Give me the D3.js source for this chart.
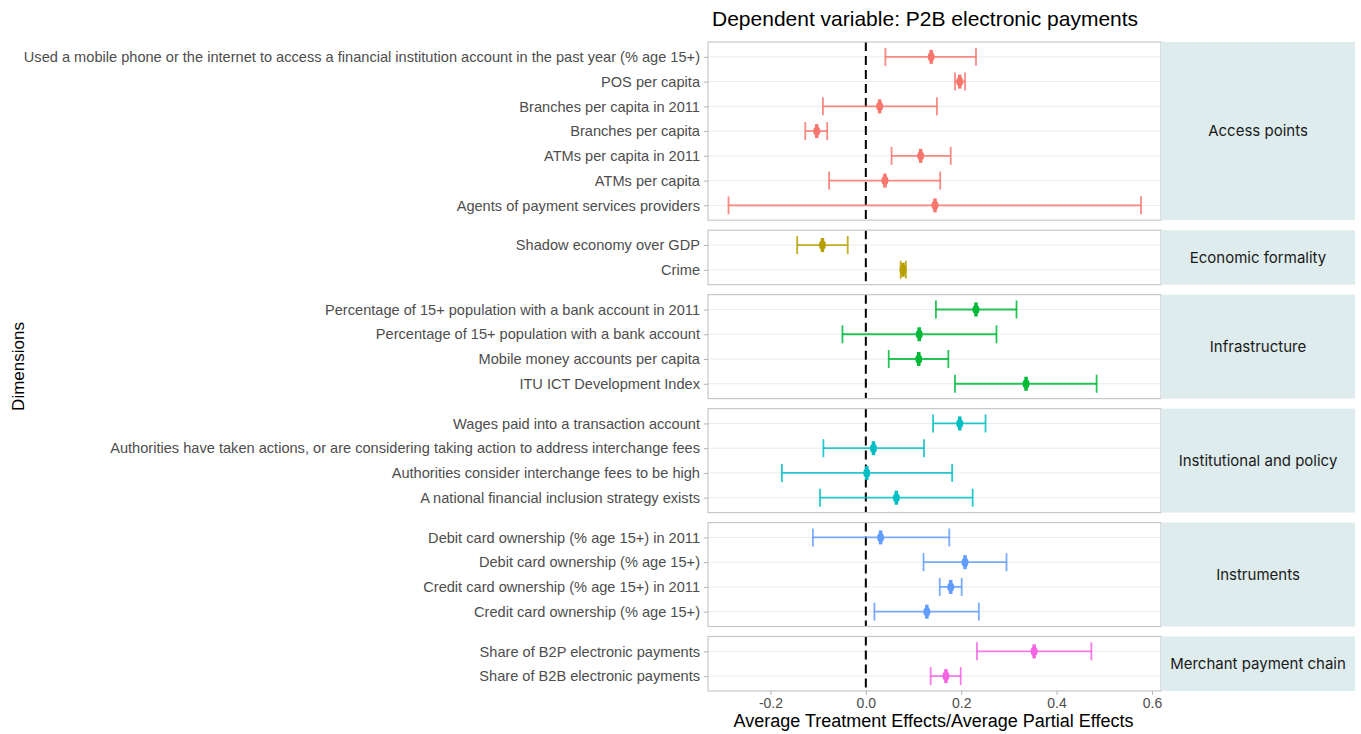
<!DOCTYPE html>
<html>
<head>
<meta charset="utf-8">
<script src="https://cdn.jsdelivr.net/npm/d3@7"></script>
<style>
  body { margin: 0; background: #fff; }
  svg { display: block; font-family: "Liberation Sans", Arial, sans-serif; }
</style>
</head>
<body>
<svg id="chart" width="1361" height="734"></svg>
<script>
// facet groups, top to bottom
var groups = ["Access points", "Economic formality", "Infrastructure",
  "Institutional and policy", "Instruments", "Merchant payment chain"];
var groupColors = ["#F8766D", "#B79F00", "#00BA38", "#00BFC4", "#619CFF", "#F564E3"];

// variables per group, top to bottom
var labels = [
  ["Used a mobile phone or the internet to access a financial institution account in the past year (% age 15+)",
   "POS per capita", "Branches per capita in 2011", "Branches per capita",
   "ATMs per capita in 2011", "ATMs per capita", "Agents of payment services providers"],
  ["Shadow economy over GDP", "Crime"],
  ["Percentage of 15+ population with a bank account in 2011",
   "Percentage of 15+ population with a bank account",
   "Mobile money accounts per capita", "ITU ICT Development Index"],
  ["Wages paid into a transaction account",
   "Authorities have taken actions, or are considering taking action to address interchange fees",
   "Authorities consider interchange fees to be high",
   "A national financial inclusion strategy exists"],
  ["Debit card ownership (% age 15+) in 2011", "Debit card ownership (% age 15+)",
   "Credit card ownership (% age 15+) in 2011", "Credit card ownership (% age 15+)"],
  ["Share of B2P electronic payments", "Share of B2B electronic payments"]
];

// estimates and interval bounds
var estimates = [
  [0.137, 0.197, 0.029, -0.103, 0.115, 0.040, 0.145],
  [-0.091, 0.078],
  [0.231, 0.112, 0.111, 0.336],
  [0.197, 0.016, 0.002, 0.064],
  [0.031, 0.208, 0.178, 0.128],
  [0.353, 0.168]
];
var lower = [
  [0.041, 0.187, -0.090, -0.127, 0.054, -0.077, -0.288],
  [-0.144, 0.073],
  [0.147, -0.049, 0.048, 0.187],
  [0.141, -0.089, -0.176, -0.096],
  [-0.111, 0.121, 0.155, 0.018],
  [0.233, 0.136]
];
var upper = [
  [0.231, 0.208, 0.149, -0.081, 0.178, 0.156, 0.577],
  [-0.038, 0.084],
  [0.316, 0.274, 0.173, 0.484],
  [0.251, 0.122, 0.181, 0.224],
  [0.175, 0.295, 0.201, 0.237],
  [0.473, 0.199]
];
var xTicks = [-0.2, 0.0, 0.2, 0.4, 0.6];

var svg = d3.select("#chart");
var panelLeft = 708, panelRight = 1161, stripRight = 1355;
var top0 = 42, gap = 10, step = 24.75;

var x = d3.scaleLinear().domain([-0.331, 0.619]).range([panelLeft, panelRight]);

svg.append("text")
  .attr("x", 712).attr("y", 26)
  .attr("font-size", 21).attr("fill", "#000")
  .text("Dependent variable: P2B electronic payments");

var y0 = top0;
groups.forEach(function(g, gi) {
  var n = labels[gi].length;
  var h = (n - 1 + 1.2) * step;
  var y = d3.scalePoint().domain(labels[gi]).range([y0, y0 + h]).padding(0.6);
  var col = groupColors[gi];
  var pg = svg.append("g");

  // panel background & gridlines
  pg.append("rect").attr("x", panelLeft).attr("y", y0)
    .attr("width", panelRight - panelLeft).attr("height", h)
    .attr("fill", "#fff");
  pg.selectAll(".grid").data(labels[gi]).enter().append("line")
    .attr("x1", panelLeft).attr("x2", panelRight)
    .attr("y1", function(d) { return y(d); }).attr("y2", function(d) { return y(d); })
    .attr("stroke", "#ebebeb").attr("stroke-width", 1);

  // zero line
  pg.append("line")
    .attr("x1", x(0)).attr("x2", x(0)).attr("y1", y0).attr("y2", y0 + h)
    .attr("stroke", "#000").attr("stroke-width", 2).attr("stroke-dasharray", "9,5");

  var rows = labels[gi].map(function(l, i) {
    return { label: l, est: estimates[gi][i], lo: lower[gi][i], hi: upper[gi][i] };
  });

  var eb = pg.selectAll(".eb").data(rows).enter().append("g")
    .attr("stroke", col).attr("stroke-opacity", 0.85).attr("stroke-width", 1.8);
  eb.append("line")
    .attr("x1", function(d) { return x(d.lo); }).attr("x2", function(d) { return x(d.hi); })
    .attr("y1", function(d) { return y(d.label); }).attr("y2", function(d) { return y(d.label); });
  eb.append("line")
    .attr("x1", function(d) { return x(d.lo); }).attr("x2", function(d) { return x(d.lo); })
    .attr("y1", function(d) { return y(d.label) - 9; }).attr("y2", function(d) { return y(d.label) + 9; });
  eb.append("line")
    .attr("x1", function(d) { return x(d.hi); }).attr("x2", function(d) { return x(d.hi); })
    .attr("y1", function(d) { return y(d.label) - 9; }).attr("y2", function(d) { return y(d.label) + 9; });

  // point estimate: thick vertical tick + dot
  pg.selectAll(".pt").data(rows).enter().append("line")
    .attr("x1", function(d) { return x(d.est); }).attr("x2", function(d) { return x(d.est); })
    .attr("y1", function(d) { return y(d.label) - 7; }).attr("y2", function(d) { return y(d.label) + 7; })
    .attr("stroke", col).attr("stroke-width", 3.5);
  pg.selectAll(".dot").data(rows).enter().append("ellipse")
    .attr("cx", function(d) { return x(d.est); }).attr("cy", function(d) { return y(d.label); })
    .attr("rx", 3.5).attr("ry", 4.5).attr("fill", col);

  // panel border
  pg.append("rect").attr("x", panelLeft).attr("y", y0)
    .attr("width", panelRight - panelLeft).attr("height", h)
    .attr("fill", "none").attr("stroke", "#c8c8c8").attr("stroke-width", 1.2);

  // y axis
  var ya = pg.append("g").attr("transform", "translate(" + panelLeft + ",0)")
    .call(d3.axisLeft(y).tickSize(4).tickPadding(4));
  ya.select(".domain").remove();
  ya.selectAll(".tick line").attr("stroke", "#b3b3b3");
  ya.selectAll(".tick text").attr("fill", "#4d4d4d").attr("font-size", 14.6)
    .attr("font-family", "'Liberation Sans', Arial, sans-serif");

  // strip
  pg.append("rect").attr("x", panelRight).attr("y", y0)
    .attr("width", stripRight - panelRight).attr("height", h)
    .attr("fill", "#deeced");
  pg.append("text").attr("x", (panelRight + stripRight) / 2).attr("y", y0 + h / 2)
    .attr("text-anchor", "middle").attr("dy", "0.35em")
    .attr("font-size", 15).attr("fill", "#1a1a1a")
    .attr("font-family", "Inter, 'Open Sans', sans-serif")
    .text(g);

  y0 += h + gap;
});

var bottom = y0 - gap;
var xa = svg.append("g").attr("transform", "translate(0," + bottom + ")")
  .call(d3.axisBottom(x).tickValues(xTicks)
    .tickFormat(function(d) { return d.toFixed(1); }).tickSize(4).tickPadding(3));
xa.select(".domain").remove();
xa.selectAll(".tick line").attr("stroke", "#b3b3b3");
xa.selectAll(".tick text").attr("fill", "#4d4d4d").attr("font-size", 14)
  .attr("font-family", "'Liberation Sans', Arial, sans-serif");

svg.append("text")
  .attr("x", (panelLeft + panelRight) / 2 - 1).attr("y", 727)
  .attr("text-anchor", "middle").attr("font-size", 18).attr("fill", "#000")
  .text("Average Treatment Effects/Average Partial Effects");

svg.append("text")
  .attr("transform", "translate(24," + ((top0 + bottom) / 2) + ") rotate(-90)")
  .attr("text-anchor", "middle").attr("font-size", 17).attr("fill", "#000")
  .text("Dimensions");
</script>
</body>
</html>
